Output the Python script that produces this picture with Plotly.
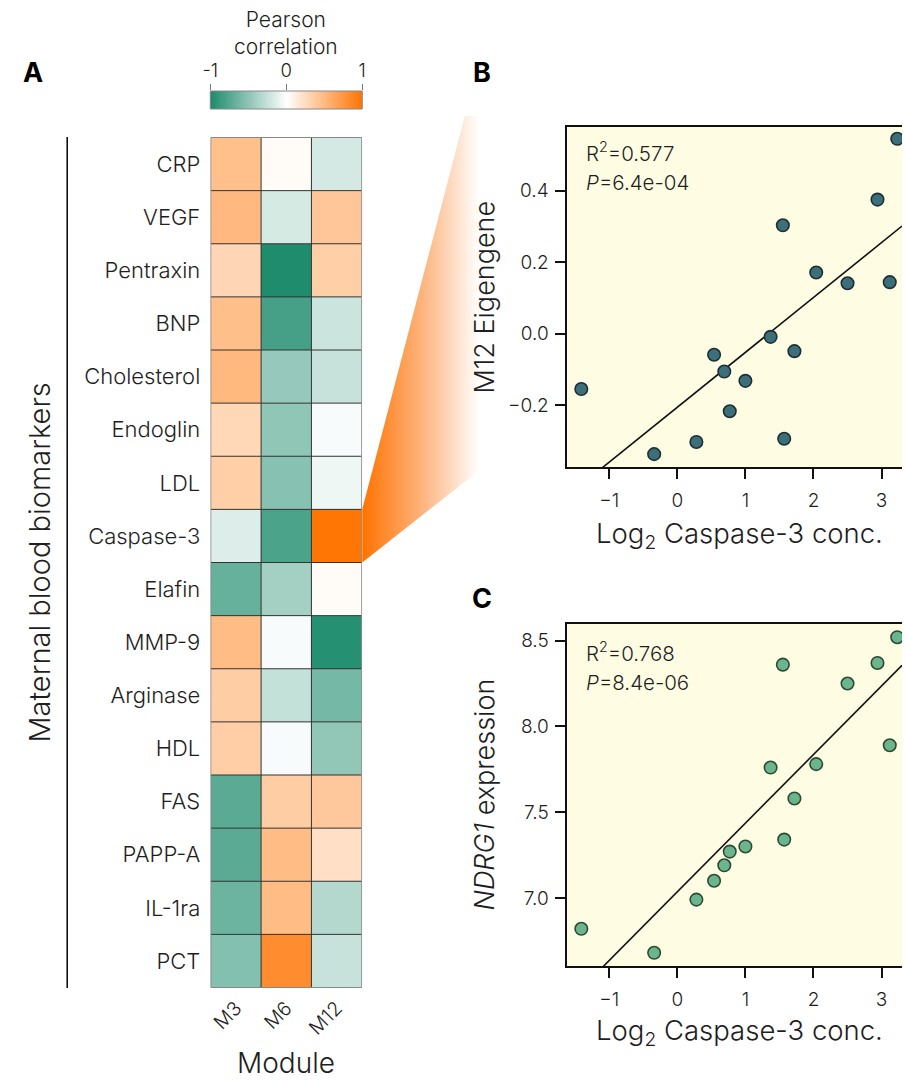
import numpy as np
import plotly.graph_objects as go

W, H = 906, 1082

# ---- data -----------------------------------------------------------------
biomarkers = ["CRP", "VEGF", "Pentraxin", "BNP", "Cholesterol", "Endoglin", "LDL",
              "Caspase-3", "Elafin", "MMP-9", "Arginase", "HDL", "FAS", "PAPP-A",
              "IL-1ra", "PCT"]
modules = ["M3", "M6", "M12"]
corr_m3 = [0.45, 0.50, 0.29, 0.46, 0.51, 0.28, 0.34, -0.15, -0.67, 0.48, 0.36, 0.35,
           -0.72, -0.72, -0.64, -0.54]
corr_m6 = [0.03, -0.18, -0.98, -0.81, -0.46, -0.49, -0.53, -0.79, -0.40, -0.03, -0.26,
           -0.03, 0.36, 0.48, 0.48, 0.82]
corr_m12 = [-0.19, 0.40, 0.34, -0.23, -0.25, -0.03, -0.07, 0.98, 0.03, -0.95, -0.61,
            -0.48, 0.39, 0.22, -0.33, -0.25]

caspase_log2 = [-1.41, -0.34, 0.28, 0.54, 0.69, 0.77, 1.00, 1.37, 1.55, 1.57, 1.72,
                2.04, 2.50, 2.94, 3.12, 3.23]
m12_eigengene = [-0.155, -0.337, -0.303, -0.059, -0.106, -0.217, -0.132, -0.009, 0.303,
                 -0.294, -0.049, 0.171, 0.141, 0.375, 0.144, 0.545]
ndrg1_expr = [6.82, 6.68, 6.99, 7.10, 7.19, 7.27, 7.30, 7.76, 8.36, 7.34, 7.58, 7.78,
              8.25, 8.37, 7.89, 8.52]

stats_b = ["R<sup>2</sup>=0.577", "<i>P</i>=6.4e-04"]
stats_c = ["R<sup>2</sup>=0.768", "<i>P</i>=8.4e-06"]

# ---- styling --------------------------------------------------------------
FONT = "Inter"
WEIGHT = 300
TXT = "#1e1e1e"
TEAL, ORANGE = "#1b8a6b", "#ff7300"
corr_scale = [[0, TEAL], [0.5, "#ffffff"], [1, ORANGE]]
PANEL_BG = "#fefde4"


def fx(p):
    return p / W


def fy(p):
    return 1 - p / H


def font(size, color=TXT, weight=WEIGHT):
    return dict(family=FONT, size=size, color=color, weight=weight)


# pixel layout of each panel
HM_L, HM_R, HM_T, HM_B = 205, 359, 137, 988
CB_T, CB_B = 91, 109
SC_L, SC_R = 567, 906
B_T, B_B = 127, 467
C_T, C_B = 624, 966
XR = [-1.613, 3.3]

fig = go.Figure()

# heatmap of correlations
z = [[a, b, c] for a, b, c in zip(corr_m3, corr_m6, corr_m12)]
fig.add_trace(go.Heatmap(z=z, x=modules, y=biomarkers, colorscale=corr_scale,
                         zmin=-1, zmax=1, showscale=False, xaxis="x", yaxis="y",
                         hoverinfo="skip"))

# colour key strip
cb_vals = np.linspace(-1, 1, 241)
fig.add_trace(go.Heatmap(z=[cb_vals], x=cb_vals, y=[0], colorscale=corr_scale,
                         zmin=-1, zmax=1, showscale=False, xaxis="x5", yaxis="y5",
                         hoverinfo="skip"))


# scatter panels with least-squares lines
def scatter_panel(xa, ya, yvals, fill, edge):
    slope, icpt = np.polyfit(caspase_log2, yvals, 1)
    xl = np.array(XR)
    fig.add_trace(go.Scatter(x=xl, y=slope * xl + icpt, mode="lines",
                             line=dict(color="#111111", width=1.6),
                             xaxis=xa, yaxis=ya, showlegend=False, hoverinfo="skip"))
    fig.add_trace(go.Scatter(x=caspase_log2, y=yvals, mode="markers",
                             marker=dict(size=12.5, color=fill,
                                         line=dict(color=edge, width=1.6)),
                             xaxis=xa, yaxis=ya, showlegend=False, cliponaxis=True))


scatter_panel("x2", "y2", m12_eigengene, "#3d6f7b", "#1d2f33")
scatter_panel("x3", "y3", ndrg1_expr, "#6ab58b", "#2c4a34")

# zoom wedge linking the Caspase-3 / M12 cell to panel B
row_h = (HM_B - HM_T) / len(biomarkers)
k = biomarkers.index("Caspase-3")
w_y0 = HM_T + k * row_h
w_y1 = w_y0 + row_h
wx = [HM_R, 463, 478, 478, HM_R, HM_R]
wy = [w_y0, 116, 116, 470, w_y1, w_y0]
fig.add_trace(go.Scatter(x=wx, y=wy, mode="lines", fill="toself",
                         line=dict(width=0, color="rgba(0,0,0,0)"),
                         fillgradient=dict(type="horizontal",
                                           colorscale=[[0, "#ff7300"], [0.5, "#fdb27a"],
                                                       [1, "#ffffff"]]),
                         xaxis="x4", yaxis="y4", showlegend=False, hoverinfo="skip"))

axis_common = dict(showgrid=False, zeroline=False)
tick_font = font(19)

fig.update_layout(
    width=W, height=H,
    margin=dict(l=0, r=0, t=0, b=0),
    paper_bgcolor="white", plot_bgcolor="rgba(0,0,0,0)",
    font=font(16),
    showlegend=False,
    xaxis=dict(domain=[fx(HM_L), fx(HM_R)], anchor="y", tickangle=-45,
               tickfont=font(19.5), ticks="",
               ticklabelstandoff=4, showline=False, **axis_common),
    yaxis=dict(domain=[fy(HM_B), fy(HM_T)], anchor="x", autorange="reversed",
               tickfont=font(22), ticks="",
               ticklabelstandoff=9, showline=False, **axis_common),
    xaxis2=dict(domain=[fx(SC_L), fx(SC_R)], anchor="y2", range=XR,
                tickvals=[-1, 0, 1, 2, 3], ticks="outside", ticklen=10, tickwidth=1.5,
                tickcolor="#111", showline=True, linecolor="#111", linewidth=2,
                mirror=True, tickfont=tick_font, ticklabelstandoff=5, **axis_common),
    yaxis2=dict(domain=[fy(B_B), fy(B_T)], anchor="x2", range=[-0.373, 0.578],
                tickvals=[-0.2, 0.0, 0.2, 0.4], tickformat=".1f", ticks="outside",
                ticklen=10, tickwidth=1.5, tickcolor="#111", showline=True,
                linecolor="#111", linewidth=2, tickfont=tick_font,
                ticklabelstandoff=3, **axis_common),
    xaxis3=dict(domain=[fx(SC_L), fx(SC_R)], anchor="y3", range=XR,
                tickvals=[-1, 0, 1, 2, 3], ticks="outside", ticklen=10, tickwidth=1.5,
                tickcolor="#111", showline=True, linecolor="#111", linewidth=2,
                mirror=True, tickfont=tick_font, ticklabelstandoff=5, **axis_common),
    yaxis3=dict(domain=[fy(C_B), fy(C_T)], anchor="x3", range=[6.603, 8.597],
                tickvals=[7.0, 7.5, 8.0, 8.5], tickformat=".1f", ticks="outside",
                ticklen=10, tickwidth=1.5, tickcolor="#111", showline=True,
                linecolor="#111", linewidth=2, tickfont=tick_font,
                ticklabelstandoff=3, **axis_common),
    xaxis4=dict(domain=[0, 1], anchor="y4", range=[0, W], visible=False),
    yaxis4=dict(domain=[0, 1], anchor="x4", range=[H, 0], visible=False),
    xaxis5=dict(domain=[fx(HM_L), fx(HM_R)], anchor="y5", range=[-1, 1], side="top",
                tickvals=[-1, 0, 1], ticktext=["-1", "0", "1"], ticks="outside",
                ticklen=6, tickwidth=1, tickcolor="#777",
                tickfont=font(18.5), ticklabelstandoff=0,
                showline=False, **axis_common),
    yaxis5=dict(domain=[fy(CB_B), fy(CB_T)], anchor="x5", visible=False),
)

shapes = []
# scatter panel backgrounds
for xr_, yr_ in (("x2", "y2"), ("x3", "y3")):
    shapes.append(dict(type="rect", xref=f"{xr_} domain", yref=f"{yr_} domain",
                       x0=0, x1=1, y0=0, y1=1, fillcolor=PANEL_BG, line_width=0,
                       layer="below"))
# heatmap cell borders
n_rows, n_cols = len(biomarkers), len(modules)
for i in range(1, n_cols):
    shapes.append(dict(type="line", xref="x", yref="y", x0=i - 0.5, x1=i - 0.5,
                       y0=-0.5, y1=n_rows - 0.5, line=dict(color="#333", width=1)))
for j in range(1, n_rows):
    shapes.append(dict(type="line", xref="x", yref="y", x0=-0.5, x1=n_cols - 0.5,
                       y0=j - 0.5, y1=j - 0.5, line=dict(color="#333", width=1)))
shapes.append(dict(type="rect", xref="x", yref="y", x0=-0.5, x1=n_cols - 0.5,
                   y0=-0.5, y1=n_rows - 0.5, line=dict(color="#888", width=1)))
# colour key frame
shapes.append(dict(type="rect", xref="x5 domain", yref="y5 domain", x0=0, x1=1,
                   y0=0, y1=1, line=dict(color="#888", width=1)))
# bracket line beside the biomarker names
shapes.append(dict(type="line", xref="paper", yref="paper", x0=fx(60), x1=fx(60),
                   y0=fy(HM_B), y1=fy(HM_T), line=dict(color="#111", width=1.6)))
fig.update_layout(shapes=shapes)


def note(text, x, y, size, color=TXT, xanchor="center", weight=WEIGHT, **kw):
    fig.add_annotation(text=text, x=fx(x), y=fy(y), xref="paper", yref="paper",
                       showarrow=False, xanchor=xanchor, yanchor="middle",
                       font=font(size, color, weight), **kw)


note("Pearson<br>correlation", 282, 33, 21)
note("A", 25, 73, 27, color="#000", weight=700)
note("B", 480, 73, 27, color="#000", weight=700)
note("C", 480, 598, 27, color="#000", weight=700)
note("Maternal blood biomarkers", 31, 563, 29, textangle=-90)
note("Module", 282, 1063, 28, borderpad=0)
note("M12 Eigengene", 482, (B_T + B_B) / 2, 27, textangle=-90)
note("<i>NDRG1</i> expression", 482, (C_T + C_B) / 2, 27, textangle=-90)
note("Log<sub>2</sub> Caspase-3 conc.", 741, 535, 27.5)
note("Log<sub>2</sub> Caspase-3 conc.", 741, 1032, 27.5)
note(stats_b[0], 584, 152, 20.5, xanchor="left")
note(stats_b[1], 584, 182, 20.5, xanchor="left")
note(stats_c[0], 584, 652, 20.5, xanchor="left")
note(stats_c[1], 584, 682, 20.5, xanchor="left")

fig.write_html("out.html")
